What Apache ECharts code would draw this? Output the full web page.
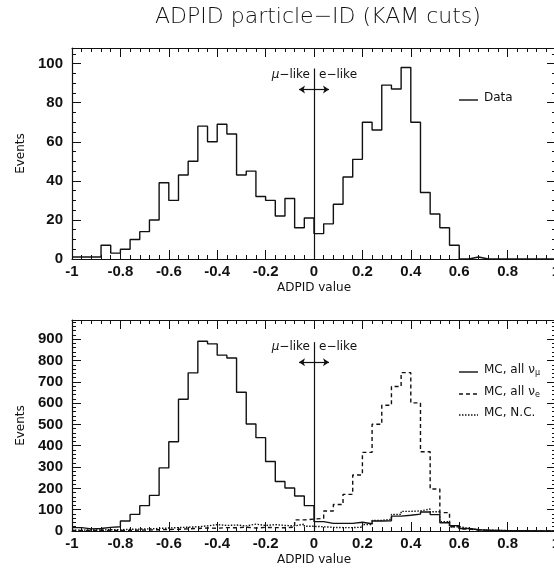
<!DOCTYPE html>
<html>
<head>
<meta charset="utf-8">
<script src="https://cdn.jsdelivr.net/npm/echarts@6/dist/echarts.min.js"></script>
<style>
  html, body { margin: 0; padding: 0; background: #fff; }
  #main { width: 554px; height: 569px; }
</style>
</head>
<body>
<div id="main"></div>
<script>
// bins of 0.04 from -1 to 1 (left edges)
var binWidth = 0.04;
var binEdges = [];
for (var i = 0; i < 50; i++) binEdges.push(+(-1 + i * binWidth).toFixed(2));

// top panel: data
var dataCounts = [
  1, 1, 1, 7, 3, 5, 10, 14, 20, 39,
  30, 43, 50, 68, 60, 69, 64, 43, 45, 32,
  30, 22, 31, 16, 21,
  13, 18, 28, 42, 51, 70, 66, 89, 87, 98,
  70, 34, 23, 16, 7, 0, 1, 0, 0, 0,
  0, 0, 0, 0, 0
];

// bottom panel: MC
var mcNumu = [
  16, 10, 12, 17, 20, 47, 78, 119, 167, 296,
  419, 618, 742, 890, 878, 825, 812, 651, 502, 438,
  326, 232, 202, 164, 119,
  44, 36, 36, 36, 41, 34, 47, 48, 70, 74,
  79, 89, 77, 39, 25, 12, 6, 3, 2, 1,
  1, 1, 0, 0, 0
];
var mcNue = [
  2, 2, 3, 2, 3, 3, 4, 5, 6, 7,
  8, 10, 12, 14, 13, 16, 15, 18, 14, 17,
  16, 15, 18, 52, 56,
  59, 94, 124, 172, 263, 369, 501, 590, 678, 743,
  601, 372, 197, 86, 20, 9, 5, 3, 2, 1,
  1, 0, 0, 0, 0
];
var mcNC = [
  4, 5, 5, 6, 6, 8, 9, 10, 12, 14,
  16, 18, 20, 24, 30, 26, 28, 24, 32, 26,
  30, 26, 24, 32, 22,
  20, 17, 16, 16, 18, 30, 50, 55, 78, 92,
  94, 103, 90, 44, 20, 12, 6, 4, 3, 2,
  1, 1, 0, 0, 0
];

var xTicks = { min: -1, max: 1, interval: 0.2 };
var topY = { min: 0, max: 108, interval: 20, minorSplit: 4 };
var botY = { min: 0, max: 990, interval: 100, minorSplit: 5 };

// cut at 0: mu-like / e-like
var cutValue = 0;

function toSteps(values) {
  var pts = binEdges.map(function (x, i) { return [x, values[i]]; });
  pts.push([xTicks.max, values[values.length - 1]]);
  return pts;
}

var black = '#111';
var tickFont = { color: black, fontFamily: 'Liberation Sans', fontWeight: 'bold', fontSize: 15 };
var textFont = 'DejaVu Sans';

function xAxis(grid, pos, withLabels) {
  return {
    type: 'value', gridIndex: grid, position: pos,
    min: xTicks.min, max: xTicks.max, interval: xTicks.interval,
    axisLine: { show: true, onZero: false, lineStyle: { color: black, width: 1.2 } },
    axisTick: { show: true, inside: true, length: 9, lineStyle: { color: black } },
    minorTick: { show: true, splitNumber: 5, length: 4, lineStyle: { color: black } },
    splitLine: { show: false },
    axisLabel: withLabels ? Object.assign({ margin: 5 }, tickFont) : { show: false },
    name: withLabels ? 'ADPID value' : '',
    nameLocation: 'middle', nameGap: 23,
    nameTextStyle: { color: black, fontFamily: textFont, fontSize: 12 }
  };
}

function yAxis(grid, pos, cfg, withLabels) {
  return {
    type: 'value', gridIndex: grid, position: pos,
    min: cfg.min, max: cfg.max, interval: cfg.interval,
    axisLine: { show: true, onZero: false, lineStyle: { color: black, width: 1.2 } },
    axisTick: { show: true, inside: true, length: 9, lineStyle: { color: black } },
    minorTick: { show: true, splitNumber: cfg.minorSplit, length: 4, lineStyle: { color: black } },
    splitLine: { show: false },
    axisLabel: withLabels ? Object.assign({ margin: 9, showMaxLabel: false }, tickFont) : { show: false },
    name: withLabels ? 'Events' : '',
    nameLocation: 'middle', nameGap: 44, nameRotate: 90,
    nameTextStyle: { color: black, fontFamily: textFont, fontSize: 12 }
  };
}

function cutMarks(lineTop, arrowY, arrowHalf) {
  return {
    silent: true, animation: false,
    label: { show: false },
    lineStyle: { color: black, width: 1.2, type: 'solid' },
    data: [
      [{ coord: [cutValue, lineTop], symbol: 'none' }, { coord: [cutValue, 0], symbol: 'none' }],
      [{ coord: [cutValue - arrowHalf, arrowY], symbol: 'arrow', symbolSize: 6 },
       { coord: [cutValue + arrowHalf, arrowY], symbol: 'arrow', symbolSize: 6 }]
    ]
  };
}

function histSeries(name, values, xi, yi, type, marks) {
  var s = {
    name: name, type: 'line', step: 'end',
    xAxisIndex: xi, yAxisIndex: yi,
    data: toSteps(values),
    showSymbol: false, symbol: 'none',
    lineStyle: { color: black, width: 1.4, type: type },
    emphasis: { disabled: true },
    animation: false
  };
  if (marks) s.markLine = marks;
  return s;
}

// legend drawn by hand: short line sample + label
var subRich = {
  sub: { fontSize: 8, fontFamily: textFont, fill: black, padding: [6, 0, 0, 0] }
};
function legendEntry(y, dash, label) {
  return [
    { type: 'line', shape: { x1: 459, y1: y, x2: 478, y2: y },
      style: { stroke: black, lineWidth: 1.4, lineDash: dash } },
    { type: 'text', left: 484, top: y - 8,
      style: { text: label, fill: black, font: '12px "DejaVu Sans"', rich: subRich } }
  ];
}

var myChart = echarts.init(document.getElementById('main'), null, { renderer: 'canvas' });

var likeRich = { i: { fontStyle: 'italic', fontFamily: textFont, fontSize: 12, fill: black } };

var graphics = [
  { type: 'text', left: 155, top: 6,
    style: { text: 'ADPID particle−ID (KAM cuts)', fill: black, font: '200 22px "DejaVu Sans"' } },
  { type: 'text', right: 554 - 310, top: 69,
    style: { text: '{i|μ}−like', fill: black, font: '12px "DejaVu Sans"', rich: likeRich } },
  { type: 'text', left: 319, top: 69,
    style: { text: 'e−like', fill: black, font: '12px "DejaVu Sans"' } },
  { type: 'text', right: 554 - 310, top: 341,
    style: { text: '{i|μ}−like', fill: black, font: '12px "DejaVu Sans"', rich: likeRich } },
  { type: 'text', left: 319, top: 341,
    style: { text: 'e−like', fill: black, font: '12px "DejaVu Sans"' } }
]
  .concat(legendEntry(100, null, 'Data'))
  .concat(legendEntry(372, null, 'MC, all ν{sub|μ}'))
  .concat(legendEntry(394, [4, 3], 'MC, all ν{sub|e}'))
  .concat(legendEntry(415, [1.5, 1.5], 'MC, N.C.'));

var option = {
  backgroundColor: '#fff',
  animation: false,
  grid: [
    { left: 72, width: 484, top: 48, height: 211, outerBoundsMode: 'none', containLabel: false },
    { left: 72, width: 484, top: 320, height: 211, outerBoundsMode: 'none', containLabel: false }
  ],
  xAxis: [
    xAxis(0, 'bottom', true), xAxis(0, 'top', false),
    xAxis(1, 'bottom', true), xAxis(1, 'top', false)
  ],
  yAxis: [
    yAxis(0, 'left', topY, true), yAxis(0, 'right', topY, false),
    yAxis(1, 'left', botY, true), yAxis(1, 'right', botY, false)
  ],
  graphic: graphics,
  series: [
    histSeries('Data', dataCounts, 0, 0, 'solid', cutMarks(97.5, 86.8, 0.062)),
    histSeries('MC, all nu_mu', mcNumu, 2, 2, 'solid', cutMarks(886, 792, 0.062)),
    histSeries('MC, all nu_e', mcNue, 2, 2, [4, 3]),
    histSeries('MC, N.C.', mcNC, 2, 2, [1.5, 1.5])
  ]
};

myChart.setOption(option);
window.addEventListener('resize', function () {
  myChart.resize();
});
</script>
</body>
</html>
